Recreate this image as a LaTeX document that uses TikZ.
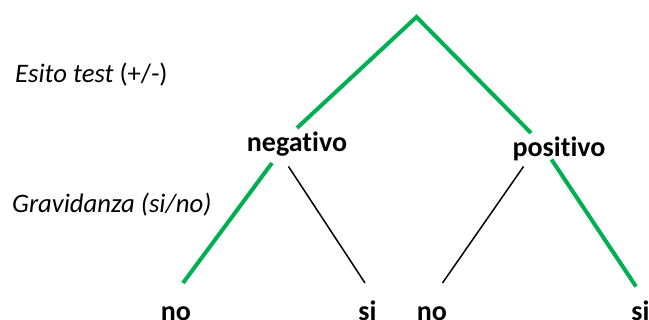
\documentclass[tikz,border=0pt]{standalone}
\usepackage{fontspec}
\setmainfont[Ligatures={NoCommon}]{Carlito}
\definecolor{treegreen}{HTML}{00B050}
\begin{document}
\begin{tikzpicture}[x=1pt,y=-1pt,
  lbl/.style={inner sep=0pt,anchor=base west,font=\fontsize{26.7}{30}\selectfont\itshape},
  outcome/.style={inner sep=0pt,anchor=base,font=\fontsize{28}{32}\selectfont\bfseries},
  greenedge/.style={draw=treegreen,line width=4pt},
  blackedge/.style={draw=black,line width=1.5pt}]
\useasboundingbox (0,0) rectangle (649,320);
% labels
\node[lbl] (esito) at (15,83) {Esito test \upshape(+/-)};
\node[lbl] (grav) at (12,213) {Gravidanza (si/no)};
% outcome nodes
\node[outcome] (neg) at (297,152) {negativo};
\node[outcome] (pos) at (559,157) {positivo};
\node[outcome] (no1) at (176,321) {no};
\node[outcome] (si1) at (367.5,321) {si};
\node[outcome] (no2) at (432,321) {no};
\node[outcome] (si2) at (640.5,321) {si};
% edge end points
\coordinate (root) at (416.5,17);
\coordinate (negT) at (297,128);
\coordinate (posT) at (531,133);
\coordinate (negL) at (272,163);
\coordinate (negR) at (288.5,166.5);
\coordinate (posL) at (523.5,166.5);
\coordinate (posR) at (551.5,159.5);
\coordinate (no1T) at (183,283);
\coordinate (si1T) at (365,283);
\coordinate (no2T) at (442.5,283);
\coordinate (si2T) at (636,286.5);
% edges
\draw[greenedge] (negT) -- (root) -- (posT);
\draw[greenedge] (negL) -- (no1T);
\draw[blackedge] (negR) -- (si1T);
\draw[blackedge] (posL) -- (no2T);
\draw[greenedge] (posR) -- (si2T);
\end{tikzpicture}
\end{document}
